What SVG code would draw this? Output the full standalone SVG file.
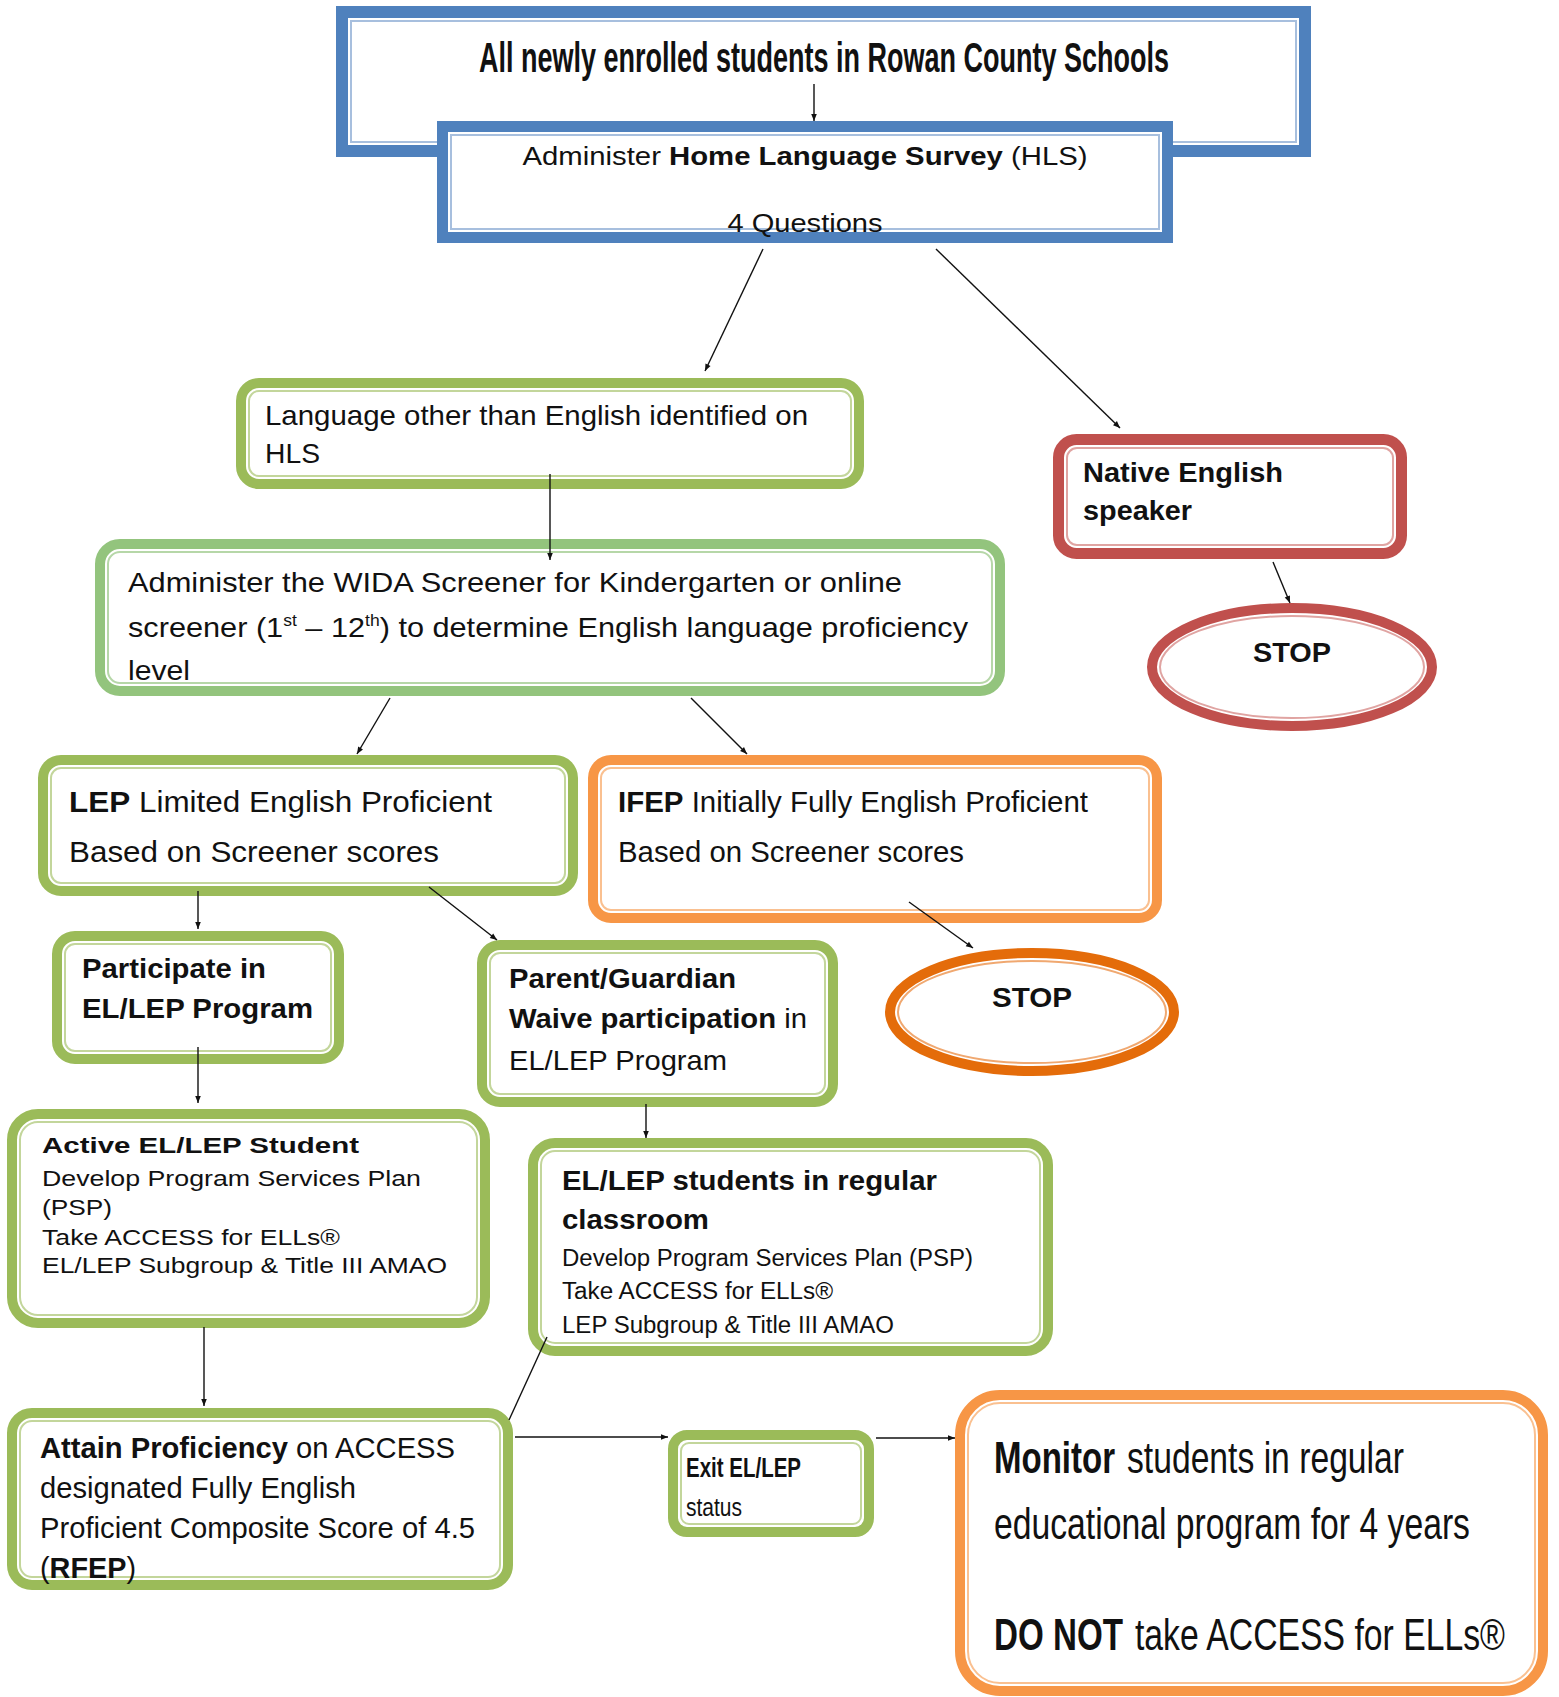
<svg xmlns="http://www.w3.org/2000/svg" width="1559" height="1697" viewBox="0 0 1559 1697">
<defs>
<style>
.t{font-family:"Liberation Sans",Arial,sans-serif;fill:#111}
.b{font-weight:bold}
.band{fill:#fff}
.in{fill:none;stroke-width:2}
.blue{stroke:#4F81BD}.blue-i{stroke:#A7BFDE}
.grn{stroke:#9BBB59}.grn-i{stroke:#C3D69B}
.grn2{stroke:#93C47D}.grn2-i{stroke:#B6D7A8}
.red{stroke:#C0504D}.red-i{stroke:#E0A4A2}
.org{stroke:#F79646}.org-i{stroke:#FAC090}
.org2{stroke:#E46C0A}.org2-i{stroke:#F0A870}
.c{stroke:#111;stroke-width:1.4;fill:none}
</style>
<marker id="arr" viewBox="0 0 10 10" refX="10" refY="5" markerWidth="9" markerHeight="7" markerUnits="userSpaceOnUse" orient="auto"><path d="M0,1 L10,5 L0,9 z" fill="#111"/></marker>
</defs>
<rect width="1559" height="1697" fill="#fff"/>

<g id="n-top">
<rect class="band blue" x="342" y="12" width="963" height="139" stroke-width="12"/>
<rect class="in blue-i" x="351" y="21" width="945" height="121" stroke-width="2.5"/>
<text class="t b" x="824" y="72" font-size="42" text-anchor="middle" textLength="690" lengthAdjust="spacingAndGlyphs">All newly enrolled students in Rowan County Schools</text>
</g>

<g id="n-hls">
<rect class="band blue" x="442.5" y="126.5" width="725" height="111" stroke-width="11"/>
<rect class="in blue-i" x="451" y="135" width="708" height="94" stroke-width="2.5"/>
<text class="t" x="805" y="165" font-size="25" text-anchor="middle" textLength="565" lengthAdjust="spacingAndGlyphs">Administer <tspan class="b">Home Language Survey</tspan> (HLS)</text>
<text class="t" x="805" y="232" font-size="25" text-anchor="middle" textLength="155" lengthAdjust="spacingAndGlyphs">4 Questions</text>
</g>

<g id="n-lang">
<rect class="band grn" x="241" y="383" width="618" height="101" rx="18" stroke-width="10"/>
<rect class="in grn-i" x="249" y="391" width="602" height="85" rx="10"/>
<text class="t" x="265" y="425" font-size="28" textLength="543" lengthAdjust="spacingAndGlyphs">Language other than English identified on</text>
<text class="t" x="265" y="463" font-size="28" textLength="55" lengthAdjust="spacingAndGlyphs">HLS</text>
</g>

<g id="n-wida">
<rect class="band grn2" x="100" y="544" width="900" height="147" rx="20" stroke-width="10"/>
<rect class="in grn2-i" x="108" y="552" width="884" height="131" rx="12"/>
<text class="t" x="128" y="592" font-size="28" textLength="774" lengthAdjust="spacingAndGlyphs">Administer the WIDA Screener for Kindergarten  or online</text>
<text class="t" x="128" y="637" font-size="28" textLength="840" lengthAdjust="spacingAndGlyphs">screener (1<tspan font-size="16" dy="-11">st</tspan><tspan dy="11"> – 12</tspan><tspan font-size="16" dy="-11">th</tspan><tspan dy="11">) to determine English language proficiency</tspan></text>
<text class="t" x="128" y="680" font-size="28" textLength="62" lengthAdjust="spacingAndGlyphs">level</text>
</g>

<g id="n-native">
<rect class="band red" x="1058.5" y="439.5" width="343" height="114" rx="18" stroke-width="11"/>
<rect class="in red-i" x="1067" y="448" width="326" height="97" rx="10"/>
<text class="t b" x="1083" y="482" font-size="28" textLength="200" lengthAdjust="spacingAndGlyphs">Native English</text>
<text class="t b" x="1083" y="520" font-size="28" textLength="109" lengthAdjust="spacingAndGlyphs">speaker</text>
</g>

<g id="n-stop1">
<ellipse class="band red" cx="1292" cy="667" rx="140" ry="59" stroke-width="10"/>
<ellipse class="in red-i" cx="1292" cy="667" rx="132" ry="51"/>
<text class="t b" x="1292" y="662" font-size="28" text-anchor="middle" textLength="78" lengthAdjust="spacingAndGlyphs">STOP</text>
</g>

<g id="n-lep">
<rect class="band grn" x="43" y="760" width="530" height="131" rx="18" stroke-width="10"/>
<rect class="in grn-i" x="51" y="768" width="514" height="115" rx="10"/>
<text class="t" x="69" y="812" font-size="30" textLength="423" lengthAdjust="spacingAndGlyphs"><tspan class="b">LEP</tspan> Limited English Proficient</text>
<text class="t" x="69" y="862" font-size="30" textLength="370" lengthAdjust="spacingAndGlyphs">Based on Screener scores</text>
</g>

<g id="n-ifep">
<rect class="band org" x="593" y="760" width="564" height="158" rx="18" stroke-width="10"/>
<rect class="in org-i" x="601" y="768" width="548" height="142" rx="10"/>
<text class="t" x="618" y="812" font-size="30" textLength="470" lengthAdjust="spacingAndGlyphs"><tspan class="b">IFEP</tspan> Initially Fully English Proficient</text>
<text class="t" x="618" y="862" font-size="30" textLength="346" lengthAdjust="spacingAndGlyphs">Based on Screener scores</text>
</g>

<g id="n-participate">
<rect class="band grn" x="57" y="936" width="282" height="123" rx="18" stroke-width="10"/>
<rect class="in grn-i" x="65" y="944" width="266" height="107" rx="10"/>
<text class="t b" x="82" y="978" font-size="28" textLength="184" lengthAdjust="spacingAndGlyphs">Participate in</text>
<text class="t b" x="82" y="1018" font-size="28" textLength="231" lengthAdjust="spacingAndGlyphs">EL/LEP Program</text>
</g>

<g id="n-parent">
<rect class="band grn" x="482" y="945" width="351" height="157" rx="18" stroke-width="10"/>
<rect class="in grn-i" x="490" y="953" width="335" height="141" rx="10"/>
<text class="t b" x="509" y="988" font-size="28" textLength="227" lengthAdjust="spacingAndGlyphs">Parent/Guardian</text>
<text class="t" x="509" y="1028" font-size="28" textLength="298" lengthAdjust="spacingAndGlyphs"><tspan class="b">Waive participation</tspan> in</text>
<text class="t" x="509" y="1070" font-size="28" textLength="218" lengthAdjust="spacingAndGlyphs">EL/LEP Program</text>
</g>

<g id="n-stop2">
<ellipse class="band org2" cx="1032" cy="1012" rx="142" ry="59" stroke-width="10"/>
<ellipse class="in org2-i" cx="1032" cy="1012" rx="134" ry="51"/>
<text class="t b" x="1032" y="1007" font-size="28" text-anchor="middle" textLength="80" lengthAdjust="spacingAndGlyphs">STOP</text>
</g>

<g id="n-active">
<rect class="band grn" x="12" y="1114" width="473" height="209" rx="26" stroke-width="10"/>
<rect class="in grn-i" x="20" y="1122" width="457" height="193" rx="18"/>
<text class="t b" x="42" y="1153" font-size="22" textLength="317" lengthAdjust="spacingAndGlyphs">Active EL/LEP Student</text>
<text class="t" x="42" y="1186" font-size="22" textLength="379" lengthAdjust="spacingAndGlyphs">Develop Program Services Plan</text>
<text class="t" x="42" y="1215" font-size="22" textLength="70" lengthAdjust="spacingAndGlyphs">(PSP)</text>
<text class="t" x="42" y="1245" font-size="22" textLength="298" lengthAdjust="spacingAndGlyphs">Take ACCESS for ELLs®</text>
<text class="t" x="42" y="1273" font-size="22" textLength="405" lengthAdjust="spacingAndGlyphs">EL/LEP Subgroup &amp; Title III AMAO</text>
</g>

<g id="n-regular">
<rect class="band grn" x="533" y="1143" width="515" height="208" rx="22" stroke-width="10"/>
<rect class="in grn-i" x="541" y="1151" width="499" height="192" rx="14"/>
<text class="t b" x="562" y="1190" font-size="27" textLength="375" lengthAdjust="spacingAndGlyphs">EL/LEP students in regular</text>
<text class="t b" x="562" y="1229" font-size="27" textLength="147" lengthAdjust="spacingAndGlyphs">classroom</text>
<text class="t" x="562" y="1266" font-size="23" textLength="411" lengthAdjust="spacingAndGlyphs">Develop Program Services Plan (PSP)</text>
<text class="t" x="562" y="1299" font-size="23" textLength="271" lengthAdjust="spacingAndGlyphs">Take ACCESS for ELLs®</text>
<text class="t" x="562" y="1333" font-size="23" textLength="332" lengthAdjust="spacingAndGlyphs">LEP Subgroup &amp; Title III AMAO</text>
</g>

<g id="n-attain">
<rect class="band grn" x="12" y="1413" width="496" height="172" rx="20" stroke-width="10"/>
<rect class="in grn-i" x="20" y="1421" width="480" height="156" rx="12"/>
<text class="t" x="40" y="1458" font-size="29" textLength="415" lengthAdjust="spacingAndGlyphs"><tspan class="b">Attain Proficiency</tspan> on ACCESS</text>
<text class="t" x="40" y="1498" font-size="29" textLength="316" lengthAdjust="spacingAndGlyphs">designated Fully English</text>
<text class="t" x="40" y="1538" font-size="29" textLength="435" lengthAdjust="spacingAndGlyphs">Proficient Composite Score of 4.5</text>
<text class="t" x="40" y="1578" font-size="29" textLength="96" lengthAdjust="spacingAndGlyphs">(<tspan class="b">RFEP</tspan>)</text>
</g>

<g id="n-exit">
<rect class="band grn" x="673" y="1435" width="196" height="97" rx="14" stroke-width="10"/>
<rect class="in grn-i" x="681" y="1443" width="180" height="81" rx="8"/>
<text class="t b" x="686" y="1477" font-size="28" textLength="115" lengthAdjust="spacingAndGlyphs">Exit EL/LEP</text>
<text class="t" x="686" y="1516" font-size="25" textLength="56" lengthAdjust="spacingAndGlyphs">status</text>
</g>

<g id="n-monitor">
<rect class="band org" x="960" y="1395" width="583" height="296" rx="40" stroke-width="10"/>
<rect class="in org-i" x="968" y="1403" width="567" height="280" rx="32"/>
<g transform="scale(0.76,1)">
<text class="t b" x="1307.9" y="1473" font-size="45" textLength="159.2" lengthAdjust="spacingAndGlyphs">Monitor</text>
<text class="t" x="1482.9" y="1473" font-size="45" textLength="364.5" lengthAdjust="spacingAndGlyphs">students in regular</text>
<text class="t" x="1307.9" y="1539" font-size="45" textLength="626.3" lengthAdjust="spacingAndGlyphs">educational program for 4 years</text>
<text class="t b" x="1307.9" y="1650" font-size="45" textLength="169.7" lengthAdjust="spacingAndGlyphs">DO NOT</text>
<text class="t" x="1493.4" y="1650" font-size="45" textLength="486.8" lengthAdjust="spacingAndGlyphs">take ACCESS for ELLs®</text>
</g>
</g>

<g id="connectors">
<line class="c" x1="814" y1="84" x2="814" y2="121" marker-end="url(#arr)"/>
<line class="c" x1="763" y1="249" x2="705" y2="371" marker-end="url(#arr)"/>
<line class="c" x1="936" y1="249" x2="1120" y2="428" marker-end="url(#arr)"/>
<line class="c" x1="550" y1="474" x2="550" y2="560" marker-end="url(#arr)"/>
<line class="c" x1="1273" y1="562" x2="1290" y2="603" marker-end="url(#arr)"/>
<line class="c" x1="390" y1="698" x2="357" y2="754" marker-end="url(#arr)"/>
<line class="c" x1="691" y1="698" x2="747" y2="754" marker-end="url(#arr)"/>
<line class="c" x1="198" y1="891" x2="198" y2="929" marker-end="url(#arr)"/>
<line class="c" x1="429" y1="887" x2="497" y2="940" marker-end="url(#arr)"/>
<line class="c" x1="909" y1="902" x2="973" y2="948" marker-end="url(#arr)"/>
<line class="c" x1="198" y1="1047" x2="198" y2="1103" marker-end="url(#arr)"/>
<line class="c" x1="646" y1="1104" x2="646" y2="1138" marker-end="url(#arr)"/>
<line class="c" x1="204" y1="1327" x2="204" y2="1406" marker-end="url(#arr)"/>
<line class="c" x1="509" y1="1420" x2="547" y2="1337"/>
<line class="c" x1="515" y1="1437" x2="668" y2="1437" marker-end="url(#arr)"/>
<line class="c" x1="876" y1="1438" x2="955" y2="1438" marker-end="url(#arr)"/>
</g>
</svg>
